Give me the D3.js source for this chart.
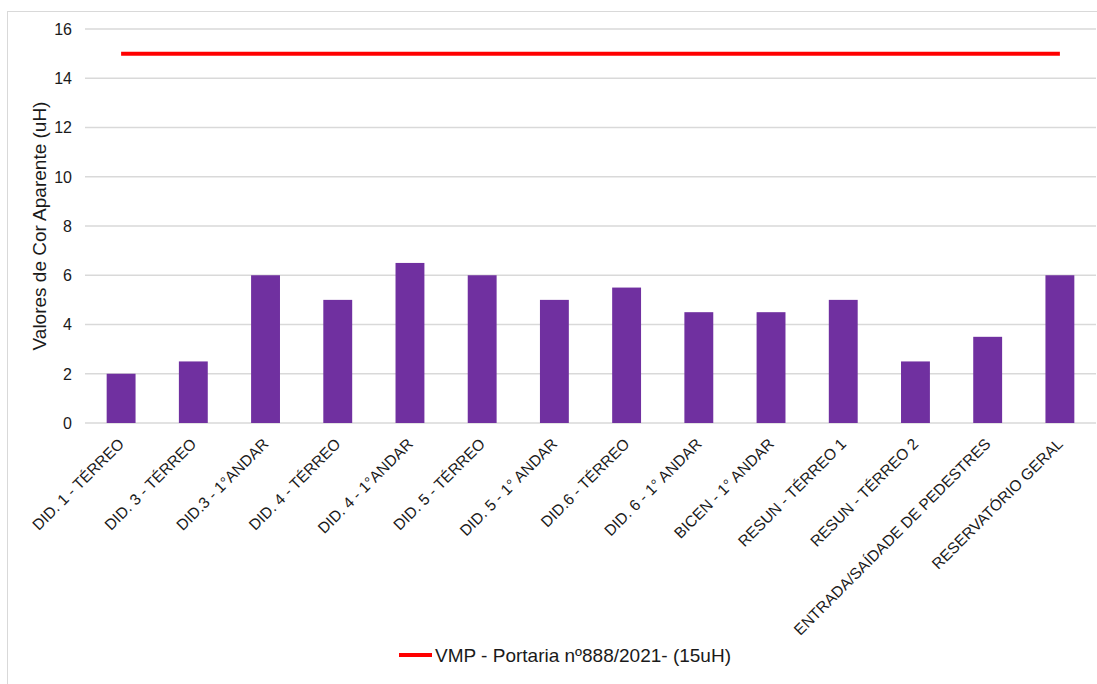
<!DOCTYPE html>
<html>
<head>
<meta charset="utf-8">
<script src="https://cdn.jsdelivr.net/npm/d3@7"></script>
<style>
  body { margin: 0; background: #fff; }
  text { font-family: "Liberation Sans", Arial, sans-serif; fill: #1a1a1a; }
</style>
</head>
<body>
<div id="chart"></div>
<script>
var categories = ["DID. 1  - TÉRREO", "DID. 3  - TÉRREO", "DID.3  - 1°ANDAR", "DID. 4 - TÉRREO",
  "DID. 4  - 1°ANDAR", "DID. 5  - TÉRREO", "DID. 5  - 1° ANDAR", "DID.6 - TÉRREO",
  "DID. 6 - 1° ANDAR", "BICEN  - 1° ANDAR", "RESUN - TÉRREO 1", "RESUN  - TÉRREO 2",
  "ENTRADA/SAÍDADE DE PEDESTRES", "RESERVATÓRIO GERAL"];
var values = [2, 2.5, 6, 5, 6.5, 6, 5, 5.5, 4.5, 4.5, 5, 2.5, 3.5, 6];
var limitValue = 15;
var yTicks = [0, 2, 4, 6, 8, 10, 12, 14, 16];
var legendLabel = "VMP - Portaria nº888/2021- (15uH)";
var yTitle = "Valores de Cor Aparente (uH)";

var width = 1097, height = 684;
var plotLeft = 85, plotRight = 1096, plotTop = 29, plotBottom = 423;

var svg = d3.select("#chart").append("svg")
  .attr("width", width)
  .attr("height", height);

// chart frame
svg.append("rect")
  .attr("x", 7.5).attr("y", 11.5)
  .attr("width", 1100).attr("height", 700)
  .attr("fill", "none")
  .attr("stroke", "#d9d9d9");

var x = d3.scaleBand().domain(categories).range([plotLeft, plotRight]).paddingInner(0.6).paddingOuter(0.3);
var y = d3.scaleLinear().domain([0, 16]).range([plotBottom, plotTop]);

// gridlines
svg.append("g")
  .selectAll("line")
  .data(yTicks)
  .enter().append("line")
  .attr("x1", plotLeft).attr("x2", plotRight)
  .attr("y1", function(d) { return y(d); })
  .attr("y2", function(d) { return y(d); })
  .attr("stroke", "#d9d9d9")
  .attr("stroke-width", 1.5);

// y tick labels
svg.append("g")
  .selectAll("text")
  .data(yTicks)
  .enter().append("text")
  .attr("x", 72)
  .attr("y", function(d) { return y(d); })
  .attr("dy", "0.36em")
  .attr("text-anchor", "end")
  .style("font-size", "16px")
  .text(function(d) { return d; });

// bars
svg.append("g")
  .selectAll("rect")
  .data(values)
  .enter().append("rect")
  .attr("x", function(d, i) { return x(categories[i]); })
  .attr("y", function(d) { return y(d); })
  .attr("width", x.bandwidth())
  .attr("height", function(d) { return y(0) - y(d); })
  .attr("fill", "#7030a0");

// limit line
var line = d3.line()
  .x(function(d) { return x(d) + x.bandwidth() / 2; })
  .y(function() { return y(limitValue); });

svg.append("path")
  .datum(categories)
  .attr("d", line)
  .attr("fill", "none")
  .attr("stroke", "#ff0000")
  .attr("stroke-width", 4);

// x labels
svg.append("g")
  .selectAll("text")
  .data(categories)
  .enter().append("text")
  .attr("transform", function(d) {
    return "translate(" + (x(d) + x.bandwidth() / 2 - 4) + "," + 437 + ") rotate(-45)";
  })
  .attr("text-anchor", "end")
  .attr("dy", "0.72em")
  .style("font-size", "15.5px")
  .text(function(d) { return d; });

// y title
svg.append("text")
  .attr("transform", "translate(46," + ((plotTop + plotBottom) / 2) + ") rotate(-90)")
  .attr("text-anchor", "middle")
  .style("font-size", "19px")
  .text(yTitle);

// legend
svg.append("line")
  .attr("x1", 399).attr("x2", 432)
  .attr("y1", 655).attr("y2", 655)
  .attr("stroke", "#ff0000")
  .attr("stroke-width", 4);

svg.append("text")
  .attr("x", 435)
  .attr("y", 655)
  .attr("dy", "0.36em")
  .style("font-size", "19px")
  .text(legendLabel);
</script>
</body>
</html>
